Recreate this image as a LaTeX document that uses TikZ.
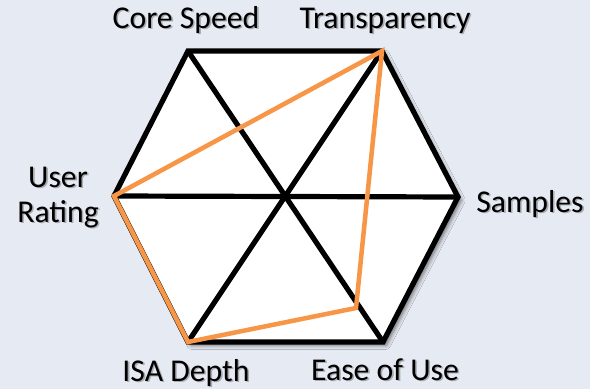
\documentclass[tikz,border=0pt]{standalone}
\usepackage{fontspec}
\setmainfont{Carlito}
\usetikzlibrary{calc,shadows.blur}
\definecolor{bgcol}{RGB}{230,235,243}
\definecolor{linecol}{RGB}{247,150,70}
\tikzset{
  axislabel/.style={font=\fontsize{23.8pt}{27pt}\selectfont, inner sep=0pt, anchor=base, align=center},
  labelshadow/.style={axislabel, text=black!70, opacity=0.4},
  frame/.style={line width=3.9pt, line join=miter, draw=black},
  score/.style={line width=3.4pt, draw=linecol, line join=miter}
}
\newcommand{\axislabel}[3]{%
  \node[labelshadow] at ($(#1)+(1.6,1.6)$) {#3};
  \node[axislabel] (#2) at (#1) {#3};
}
\begin{document}
\begin{tikzpicture}[x=0.75pt, y=-0.75pt]
  % canvas
  \fill[bgcol] (0,0) rectangle (590,389);
  \useasboundingbox (0,0) rectangle (590,389);

  % hexagon corners
  \coordinate (core) at (188,51);
  \coordinate (trans) at (382,51);
  \coordinate (samp) at (458,197);
  \coordinate (ease) at (383,342);
  \coordinate (isa) at (188,342);
  \coordinate (user) at (114,196);
  % score point on the ease-of-use spoke
  \coordinate (easescore) at (356,308);

  % white face with soft drop shadow
  \path[fill=white, blur shadow={shadow xshift=2.5pt, shadow yshift=-2.5pt, shadow blur radius=3pt, shadow opacity=55}]
    (core) -- (trans) -- (samp) -- (ease) -- (isa) -- (user) -- cycle;

  % spokes
  \draw[frame] (core) -- (ease);
  \draw[frame] (trans) -- (isa);
  \draw[frame] (user) -- (samp);
  % outline
  \draw[frame] (core) -- (trans) -- (samp) -- (ease) -- (isa) -- (user) -- cycle;

  % score polygon
  \draw[score] (user) -- (trans) -- (easescore) -- (isa) -- cycle;

  % axis labels
  \axislabel{186,28}{lcore}{Core Speed}
  \axislabel{385,28}{ltrans}{Transparency}
  \axislabel{530,212}{lsamp}{Samples}
  \axislabel{385,380}{lease}{Ease of Use}
  \axislabel{186,381}{lisa}{ISA Depth}
  \axislabel{58,187}{luser}{User}
  \axislabel{58,222}{lrating}{Rating}
\end{tikzpicture}
\end{document}
